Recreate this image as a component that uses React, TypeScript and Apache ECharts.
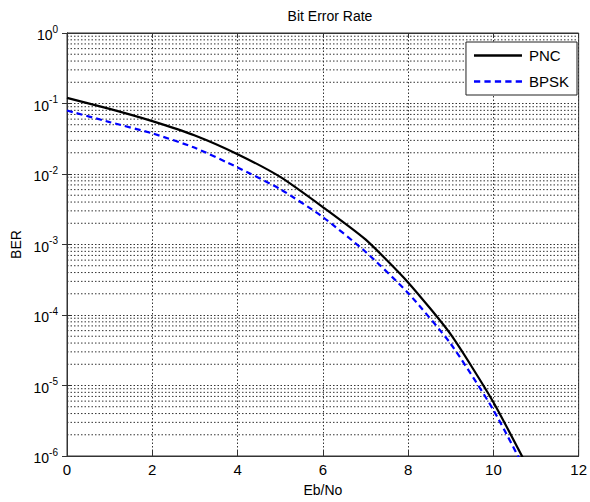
import React, { useEffect, useRef } from "react";
import * as echarts from "echarts";

const ebNo = [0, 1, 2, 3, 4, 5, 6, 7, 8, 9, 10, 11];
const pncBer = [0.12, 0.084, 0.0563, 0.0352, 0.0191, 0.0091, 0.0034, 0.00118, 0.00029, 0.000053, 0.0000058, 0.00000041];
const bpskBer = [0.0795, 0.0545, 0.0377, 0.0235, 0.0124, 0.0061, 0.00245, 0.00079, 0.000205, 0.000039, 0.0000045, 0.00000032];
const xTicks = [0, 2, 4, 6, 8, 10, 12];
const decades = [-6, -5, -4, -3, -2, -1, 0];
const minorMultipliers = [2, 3, 4, 5, 6, 7, 8, 9];

export default function App() {
  const ref = useRef<HTMLDivElement>(null);
  useEffect(() => {
    document.body.style.margin = "0";
    const chart = echarts.init(ref.current!, undefined, { renderer: "svg" });
    const minorVals: number[] = [];
    for (let i = 0; i < decades.length - 1; i++) {
      for (const m of minorMultipliers) minorVals.push(m * Math.pow(10, decades[i]));
    }
    const gridStyle = { color: "#333", width: 1, type: [1.5, 2] as any };
    const font = "Liberation Sans, Arial, sans-serif";
    const minorSeries = minorVals.map((v, i) => ({
      name: "minor" + i,
      type: "line",
      data: [[0, v], [12, v]],
      symbol: "none",
      silent: true,
      z: 1,
      lineStyle: gridStyle,
      itemStyle: { color: "#333" },
    }));
    chart.setOption({
      animation: false,
      backgroundColor: "#fff",
      title: {
        text: "Bit Error Rate",
        left: 325,
        textAlign: "center",
        top: 4,
        textStyle: { fontFamily: font, fontSize: 14, fontWeight: "normal", color: "#000" },
      },
      grid: { left: 67, right: 7, top: 33, bottom: 43, show: true, borderColor: "#333", borderWidth: 1, backgroundColor: "transparent" },
      legend: {
        right: 13,
        top: 42,
        orient: "vertical",
        backgroundColor: "#fff",
        borderColor: "#222",
        borderWidth: 1,
        borderRadius: 0,
        padding: [6, 8, 6, 8],
        itemWidth: 48,
        itemHeight: 14,
        itemGap: 11,
        textStyle: { fontFamily: font, fontSize: 15, color: "#000", padding: [0, 0, 0, 2] },
        data: [
          { name: "PNC", icon: "path://M0,0 L48,0 L48,2.5 L0,2.5 Z", itemStyle: { color: "#000" } },
          { name: "BPSK", icon: "path://M0,0 L6,0 L6,2.5 L0,2.5 Z M10,0 L16,0 L16,2.5 L10,2.5 Z M20,0 L26,0 L26,2.5 L20,2.5 Z M30,0 L36,0 L36,2.5 L30,2.5 Z M40,0 L46,0 L46,2.5 L40,2.5 Z", itemStyle: { color: "#0000ff" } },
        ],
      },
      xAxis: [
        {
          type: "value",
          min: 0,
          max: 12,
          interval: 2,
          name: "Eb/No",
          nameLocation: "middle",
          nameGap: 27,
          nameTextStyle: { fontFamily: font, fontSize: 14, color: "#000" },
          axisLine: { show: true, lineStyle: { color: "#333" } },
          axisTick: { show: true, inside: true, length: 5, lineStyle: { color: "#333" } },
          axisLabel: { fontFamily: font, fontSize: 15, color: "#000", margin: 6, formatter: (v: number) => (xTicks.includes(v) ? String(v) : "") },
          splitLine: { show: true, lineStyle: gridStyle },
        },
        {
          type: "value",
          position: "top",
          min: 0,
          max: 12,
          interval: 2,
          axisLine: { show: true, lineStyle: { color: "#333" } },
          axisTick: { show: true, inside: true, length: 5, lineStyle: { color: "#333" } },
          axisLabel: { show: false },
          splitLine: { show: false },
        },
      ],
      yAxis: [
        {
          type: "log",
          logBase: 10,
          min: 1e-6,
          max: 1,
          interval: 1,
          name: "BER",
          nameLocation: "middle",
          nameGap: 44,
          nameRotate: 90,
          nameTextStyle: { fontFamily: font, fontSize: 14, color: "#000" },
          axisLine: { show: true, lineStyle: { color: "#333" } },
          axisTick: { show: true, inside: true, length: 5, lineStyle: { color: "#333" } },
          axisLabel: {
            margin: 9,
            formatter: (v: number) => {
              const e = Math.round(Math.log10(v));
              return "{b|10}{s|" + e + "}";
            },
            rich: {
              b: { fontFamily: font, fontSize: 14, color: "#000", padding: [4, 0, 0, 0] },
              s: { fontFamily: font, fontSize: 10, color: "#000", padding: [0, 0, 8, 0] },
            },
          },
          splitLine: { show: true, lineStyle: gridStyle },
        },
        {
          type: "log",
          logBase: 10,
          min: 1e-6,
          max: 1,
          interval: 1,
          position: "right",
          axisLine: { show: true, lineStyle: { color: "#333" } },
          axisTick: { show: true, inside: true, length: 5, lineStyle: { color: "#333" } },
          axisLabel: { show: false },
          splitLine: { show: false },
        },
      ],
      series: [
        ...minorSeries,
        {
          name: "PNC",
          type: "line",
          z: 3,
          data: ebNo.map((x, i) => [x, pncBer[i]]),
          symbol: "none",
          smooth: 0.2,
          lineStyle: { color: "#000", width: 2.2, type: "solid" },
          itemStyle: { color: "#000" },
          clip: true,
        },
        {
          name: "BPSK",
          type: "line",
          z: 4,
          data: ebNo.map((x, i) => [x, bpskBer[i]]),
          symbol: "none",
          smooth: 0.2,
          lineStyle: { color: "#0000ff", width: 2.2, type: [6, 4] },
          itemStyle: { color: "#0000ff" },
          clip: true,
        },
      ],
    });
    return () => chart.dispose();
  }, []);
  return <div ref={ref} style={{ width: 590, height: 502 }} />;
}
